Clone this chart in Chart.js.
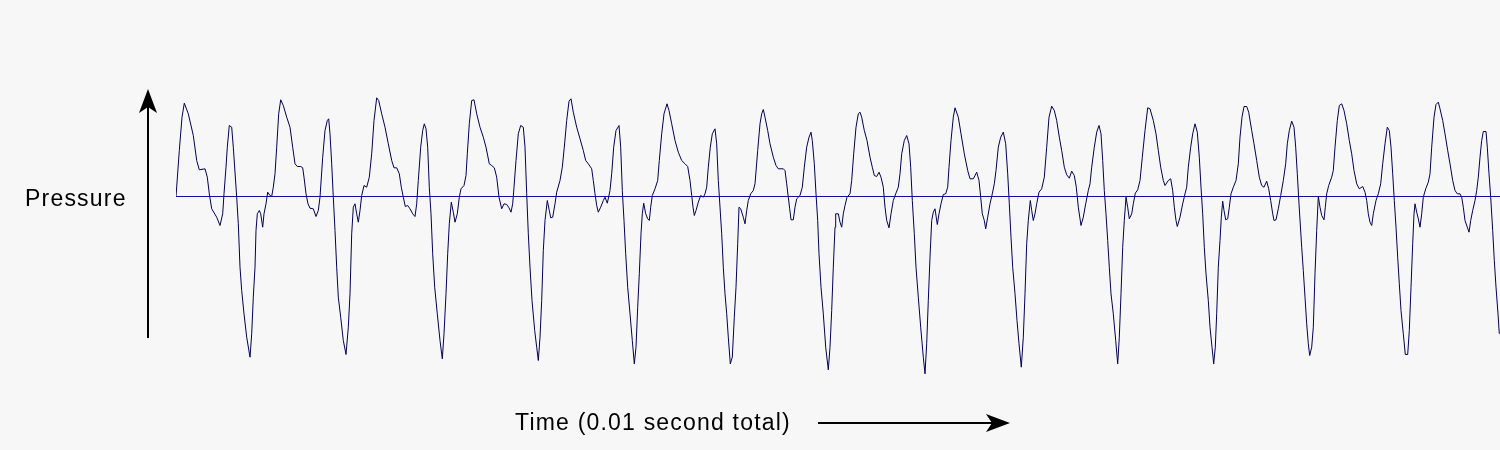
<!DOCTYPE html>
<html>
<head>
<meta charset="utf-8">
<title>Pressure over time</title>
<script src="https://cdn.jsdelivr.net/npm/chart.js@4.4.1/dist/chart.umd.min.js"></script>
<style>
  html, body { margin: 0; padding: 0; background: #f7f7f7; }
  #wrap { width: 1500px; height: 450px; }
</style>
</head>
<body>
<div id="wrap"><canvas id="wave" width="1500" height="450"></canvas></div>
<script>
// time (arbitrary units, whole trace = 0.01 s) and pressure (arbitrary units, 0 = ambient)
const time = [
    0, 3.3, 6, 8.3, 12.3, 17.3, 20.7, 23.3, 29, 31.3,
    33.3, 35.7, 40.7, 44, 46.7, 48, 50, 51.3, 53.3, 55.7,
    57.3, 60.7, 62.3, 64, 65.7, 68, 70.7, 74, 75.7, 77.3,
    79, 80, 81.3, 83.3, 84.7, 86.7, 88, 90, 91.7, 94,
    95.7, 97.3, 99, 100.7, 102.7, 104.7, 107.3, 110.7, 114, 116.7,
    119, 121.3, 124.7, 126.7, 128, 130, 132, 134, 137.3, 140,
    142.3, 144, 146.7, 149, 151.3, 152.7, 154, 155.7, 157.3, 159,
    160.7, 162.3, 164.7, 167.3, 170, 172.3, 174, 175.7, 177.3, 179,
    180.7, 182.3, 184,
    185.7, 188, 190.7, 193.3, 195.7, 198, 200.7, 202.7, 205.7, 209,
    212.3, 215.7, 218, 220.7, 223.3, 225.3, 227.3, 229.3, 231.7, 234,
    236.7, 239, 240.7, 242.3, 244.7, 246.7, 248.3, 250, 251.7, 253.3,
    255, 256.7, 258.7, 261.3, 264, 266.3, 268, 270, 271.7, 273.3,
    275.3, 277.3, 279, 281.3, 283.3, 285, 288, 290, 291.3, 293.3,
    295.7, 298, 300.7, 304, 307.3, 310, 313.3, 315.7, 318.3, 320.7,
    323, 325.7, 328, 330.7, 333, 335, 336.7, 338, 340, 342.3,
    344.7, 347.3, 349, 350.7, 352.3, 354, 356, 358.7, 360.7, 362.3,
    364, 365.7, 367.3, 369, 371.3, 373.3, 374.7, 376.7,
    379, 380.7, 384, 386.3, 388.3, 390.7, 393, 395, 397.3, 400.7,
    404, 407.3, 409.7, 412.3, 415.7, 417.3, 419, 420.7, 422.3, 424.7,
    427.3, 429, 431.3, 434, 435.7, 437.7, 440, 443, 444.7, 446.3,
    448, 449.7, 451.7, 454, 456.3, 458.3, 460, 461.7, 463.3, 465,
    466.3, 467.7, 469.7, 471.7, 473.3, 474.7, 476.3, 479, 481.7, 483.3,
    485.7, 488, 491, 493, 495.7, 499, 502.3, 505.7, 509, 511.7,
    514, 515.7, 517, 518.3, 520, 522.3, 524.7, 527.3, 529, 530.7,
    532.3, 534.3, 536.3, 539, 540.7, 542.3, 544, 545.7, 547.3, 549,
    550.7, 552.3, 554.3, 556.3, 558.3, 560, 561.7, 563, 564.7, 567.3,
    569, 570.7, 572.3, 574.7, 577.3,
    579, 581.7, 584, 585.7, 587.3, 589, 591.7, 594, 597.3, 600,
    602.3, 607.3, 609, 610.7, 612.3, 613.7, 615, 617.3, 619, 620.7,
    624, 626.3, 628.3, 630.7, 633, 635, 636.3, 638.3, 640, 641.7,
    643, 645, 647.3, 649.7, 652.3, 654, 655.7, 657.3, 659, 659.7,
    662.3, 664, 665.7, 667.3, 669, 671, 674, 675.7, 677.7, 680,
    682.3, 684, 685.7, 688.3, 691, 694, 696.3, 698.3, 700.7, 703,
    705, 707.3, 709, 710.7, 713, 715, 717.3, 719.7, 722.3, 724,
    725.7, 728.3, 730.7, 733, 734.7, 736.3, 738.3, 740, 742.3, 744.7,
    747.3, 749, 750.7, 752.3, 754, 755.7, 757.3, 759, 761.3, 763,
    765, 767.3, 769.7, 771.7, 773, 775, 777.3,
    779, 782.3, 785, 788.3, 791.7, 794, 797.3, 800.7, 803, 804.7,
    806.3, 808.3, 809.7, 811.7, 814, 816.3, 818.3, 820, 822.3, 824.7,
    827.3, 829.7, 831.7, 833.3, 835, 836.7, 839, 841, 843, 845.3,
    847.3, 849, 850.7, 852.3, 854.3, 855.7, 857.3, 859, 860.7, 863,
    865.7, 868.3, 870.7, 873, 875.7, 878.3, 880.7, 883.3, 885.7, 888.3,
    890.7, 893.3, 895.7, 898.3, 900.3, 902.3, 905, 907.3, 909.7, 912.3,
    914, 915.7, 918.3, 920.7, 923, 925, 926.7, 928.3, 930, 931.7,
    933.3, 935, 937.3, 939.7, 941.7, 943.3, 945, 946.7, 948.3, 950,
    951.7, 953.3, 955.7, 957.3, 959.3, 961.7, 964, 966.3, 969, 971.7,
    974, 977.3, 980, 982.3, 984.7, 987.3, 989, 992.3, 994.7, 996.7,
    998.3, 1000, 1001.3, 1004, 1006.7, 1009, 1010.7, 1012.3, 1014.7, 1016.7,
    1019, 1021.3, 1023.3, 1025, 1026.7, 1028.3, 1030, 1032.3, 1034, 1036,
    1037.7, 1039.3, 1040.7, 1042.3, 1044, 1045.3, 1046.7, 1048, 1049.7, 1051.7,
    1053.3, 1055, 1057.3, 1060, 1062.3, 1064, 1066, 1068, 1070.7, 1072.7,
    1075.7, 1078, 1080.7, 1083.3, 1085.7, 1088, 1090.7, 1092.7, 1094.7, 1096.7,
    1098, 1100, 1102.3, 1104.7, 1107.3, 1109.7, 1111.3, 1113.3, 1115.7, 1118,
    1119.7, 1121.3, 1123,
    1125.7, 1127.3, 1129, 1130.7, 1132.3, 1133.7, 1135.7, 1137.3, 1139, 1140.7,
    1142.3, 1144, 1145.7, 1148, 1149.3, 1150.7, 1152.7, 1155.7, 1157.3, 1159,
    1161.3, 1163.3, 1165.7, 1168, 1170.7, 1173.3, 1175.7, 1178, 1180.7, 1183.3,
    1186.7, 1189, 1190.7, 1192.3, 1194, 1195.7, 1197.3, 1200, 1202.3, 1204.7,
    1206.7, 1209, 1211.3, 1213.3, 1215, 1216.7, 1218.3, 1220, 1221.7, 1223.3,
    1225, 1227.3, 1229.3, 1231.7, 1233.3, 1235, 1236.7, 1238, 1239, 1240.7,
    1242.3, 1244, 1245.7, 1247.3, 1249.7, 1252.3, 1254, 1255.7, 1258, 1260,
    1262.3, 1264, 1266.7, 1269, 1271.7, 1274, 1276.7, 1279, 1281.3, 1284,
    1285.7, 1287.3, 1289, 1291.3, 1293, 1294.7, 1296.7, 1299, 1300.7, 1302.3,
    1304, 1305.7, 1307.3, 1310, 1311.3, 1313, 1314.7, 1316.7, 1318.3, 1320,
    1322, 1323.3
];

const pressure = [
    0, 46, 79.3, 93.3, 82.7, 61, 36, 26.7, 27.7, 19.3,
    2.7, -12.3, -20.7, -29, -17.3, 2.7, 29.3, 49.3, 71, 69.3,
    49.3, -0.7, -27.3, -70.7, -94, -117.3, -140.7, -160.7, -137.3, -100.7,
    -70.7, -34, -17.3, -14, -17.3, -30.7, -17.3, -7.3, 4.3, 1,
    0, 9.3, 22.7, 49.3, 82.7, 96.7, 91, 79.3, 69.3, 49.3,
    32.7, 30, 30, 28.7, 19.3, 2.7, -7.3, -11.7, -12.3, -20,
    -14, -0.7, 39.3, 66, 76, 77.7, 62.7, 32.7, -0.7, -34,
    -70.7, -100.7, -120.7, -144, -158, -130.7, -97.3, -37.3, -10.7, -7.3,
    -17.3, -25.7, -14,
    1, 11, 9.3, 19.3, 42.7, 76, 98.7, 96, 82.7, 69.3,
    52.7, 36, 28.7, 28.7, 22.7, 9.3, -0.7, -10, -9, -12.3,
    -17.3, -20, -7.3, 16, 49.3, 66, 72.7, 67.7, 49.3, 9.3,
    -17.3, -57.3, -90.7, -117.3, -144, -162.3, -137.3, -97.3, -57.3, -27.3,
    -5.7, -15.7, -25.7, -17.3, -0.7, 7.7, 11, 21, 42.7, 72.7,
    96, 96.7, 82.7, 69.3, 59.3, 49.3, 32.7, 31, 28.7, 19.3,
    -0.7, -12.3, -7.3, -8, -11.3, -15.7, -7.3, 9.3, 36, 62.7,
    71, 69.3, 49.3, 2.7, -37.3, -70.7, -104, -134, -150.7, -164,
    -140.7, -104, -54, -24, -4, -14, -21.3, -20.7,
    -7.3, 4.3, 16, 29.3, 49.3, 76, 95.3, 97.7, 84.3, 69.3,
    57.7, 46, 36, 32.7, 27.7, 16, 2.7, -9, -15.7, -10.7,
    -4, -0.7, -6.7, 6, 22.7, 49.3, 66, 71, 49.3, 6,
    -24, -57.3, -90.7, -117.3, -144, -167.3, -150.7, -110.7, -77.3, -37.3,
    -17.3, -6.7, -17.3, -22.3, -24, -10.7, 1, 7.7, 16, 36,
    62.7, 82.7, 92.7, 86, 72.7, 56, 44.3, 36, 32.7, 30,
    16, 1, -10.7, -19, -14, -5.7, 1, -0.7, 2.7, 9.3,
    29.3, 49.3, 62.7, 67.7, 52.7, 16, -10.7, -37.3, -70.7, -97.3,
    -117.3, -140.7, -167.3, -160.7, -120.7, -90.7, -47.3, -10.7, -12.3, -20.7,
    -27.3, -14, -4, 2.7, 6,
    12.7, 46, 72.7, 82.7, 87, 79.3, 66, 52.7, 39.3, 31,
    27.7, 27.7, 26, 12.7, -0.7, -12.3, -23.3, -23.3, -10.7, -2.3,
    1, 9.3, 29.3, 49.3, 59.3, 64.3, 56, 32.7, 2.7, -24,
    -57.3, -90.7, -117.3, -150.7, -173.3, -150.7, -114, -70.7, -30.7, -17.3,
    -17.3, -25.7, -30.7, -17.3, -9, -0.7, 2.7, 16, 42.7, 69.3,
    82.7, 84.3, 79.3, 66, 56, 39.3, 29.3, 21, 20, 24.3,
    19.3, 9.3, -10.7, -24, -31.3, -17.3, -4, 2.7, 9.3, 22.7,
    42.7, 56, 61, 52.7, 29.3, -4, -37.3, -70.7, -100.7, -130.7,
    -160.7, -177.3, -147.3, -104, -60.7, -24, -15.7, -12.3, -28, -17.3,
    -7.3, 2, 2.7, 9.3, 29.3, 56, 79.3,
    88.7, 79.3, 62.7, 42.7, 26, 17.7, 17.7, 24.3, 16, -0.7,
    -17.3, -24, -32.3, -20.7, -7.3, 2.7, 12.7, 26, 49.3, 59.3,
    64.3, 52.7, 22.7, -7.3, -40.7, -70.7, -97.3, -124, -147.3, -170.7,
    -140.7, -97.3, -47.3, -24, -4, -14, -24, -17.3, -7.3, 4.3,
    7.7, 19.3, 49.3, 79.3, 90.3, 86, 76, 59.3, 46, 29.3,
    21.7, 18.3, 25.3, 21, 9.3, -10.7, -29, -20.7, -7.3, 6,
    12.7, 29.3, 49.3, 64.3, 71, 62.7, 36, 6, -17.3, -44,
    -70.7, -97.3, -117.3, -144, -167.3, -140.7, -97.3, -50.7, -24, -0.7,
    -10.7, -22.3, -17.3, -7.3, 3.3, 6.7, 16, 39.3, 66, 88.7,
    87.7, 76, 62.7, 46, 29.3, 16, 11, 16, 17.7, 6,
    -10.7, -24, -30, -20.7, -7.3, 2.7, 9.3, 29.3, 49.3, 62.7,
    72.7, 64.3, 39.3, 9.3, -17.3, -50.7, -77.3, -104, -130.7, -150.7,
    -167.3, -150.7, -117.3, -70.7, -44, -20.7, -4.7, -14, -23.3, -22.3,
    -10.7, 2.7, 9.3, 16, 32.7, 59.3, 79.3, 90, 90, 84.3,
    66, 52.7, 36, 19.3, 11, 9.3, 15.3, 7.7, -4, -17.3,
    -24, -23.3, -12.3, 1, 16, 32.7, 52.7, 66, 75.3, 69.3,
    49.3, 22.7, -7.3,
    -50.7, -74, -100.7, -127.3, -147.3, -159, -150.7, -130.7, -77.3, -34,
    0, -10.7, -19, -23.3, -10.7, 2.7, 11, 19.3, 26, 49.3,
    76, 91, 92.7, 86, 72.7, 56, 42.7, 26, 12.7, 7.7,
    10, 4.3, -4, -17.3, -25.7, -29, -17.3, -4, 2.7, 12.7,
    32.7, 52.7, 69.3, 66, 49.3, 22.7, -4, -30.7, -60.7, -87.3,
    -114, -137.3, -158, -158, -134, -90.7, -47.3, -17.3, -7.3, -15.7,
    -22.3, -30.7, -17.3, -0.7, 7.7, 14.3, 22.7, 49.3, 79.3, 92,
    94.3, 87.7, 76, 62.7, 46, 32.7, 16, 6, 2.7, 2.7,
    -0.7, -10.7, -24, -30.7, -35.7, -24, -14, -4, 6, 19.3,
    39.3, 56, 65, 65, 49.3, 22.7, -0.7, -34, -64, -90.7,
    -117.3, -137.3
];

// zero-pressure reference line across the whole trace
const baselineTime = [0, 1324];
const baselineValue = [0, 0];

const xLabel = 'Time (0.01 second total)';
const yLabel = 'Pressure';

const waveColor = '#000058';
const zeroColor = '#10109a';
const inkColor = '#000000';

const toPoints = (xs, ys) => xs.map((x, i) => ({ x: x, y: ys[i] }));

// filled arrowhead with a notch at the back
const arrowHead = (ctx, tipX, tipY, dirX, dirY) => {
    const len = 24, half = 9, notch = 6;
    const px = -dirY, py = dirX;
    ctx.beginPath();
    ctx.moveTo(tipX, tipY);
    ctx.lineTo(tipX - dirX * len + px * half, tipY - dirY * len + py * half);
    ctx.lineTo(tipX - dirX * (len - notch), tipY - dirY * (len - notch));
    ctx.lineTo(tipX - dirX * len - px * half, tipY - dirY * len - py * half);
    ctx.closePath();
    ctx.fill();
};

const axisArrows = {
    id: 'axisArrows',
    beforeDraw(chart) {
        const ctx = chart.ctx;
        ctx.save();
        ctx.fillStyle = '#f7f7f7';
        ctx.fillRect(0, 0, chart.width, chart.height);
        ctx.restore();
    },
    afterDraw(chart) {
        const ctx = chart.ctx;
        ctx.save();
        ctx.strokeStyle = inkColor;
        ctx.fillStyle = inkColor;
        ctx.lineWidth = 2;

        // vertical pressure arrow
        ctx.beginPath();
        ctx.moveTo(148, 338);
        ctx.lineTo(148, 100);
        ctx.stroke();
        arrowHead(ctx, 148, 89, 0, -1);

        // horizontal time arrow
        ctx.beginPath();
        ctx.moveTo(818, 423);
        ctx.lineTo(995, 423);
        ctx.stroke();
        arrowHead(ctx, 1010, 423, 1, 0);

        ctx.font = '23px "Liberation Sans", Arial, sans-serif';
        if ('letterSpacing' in ctx) ctx.letterSpacing = '1.2px';
        ctx.textBaseline = 'alphabetic';
        ctx.textAlign = 'left';
        ctx.fillText(yLabel, 25, 206);
        ctx.fillText(xLabel, 515, 430);
        ctx.restore();
    }
};

const ctx = document.getElementById('wave').getContext('2d');
const chart = new Chart(ctx, {
    type: 'line',
    data: {
        datasets: [
            {
                label: 'Zero',
                data: toPoints(baselineTime, baselineValue),
                borderColor: zeroColor,
                borderWidth: 1,
                pointRadius: 0,
                fill: false,
                tension: 0
            },
            {
                label: 'Pressure',
                data: toPoints(time, pressure),
                borderColor: waveColor,
                borderWidth: 1,
                pointRadius: 0,
                fill: false,
                tension: 0
            }
        ]
    },
    options: {
        responsive: false,
        animation: false,
        devicePixelRatio: 1,
        layout: { padding: { left: 176, right: 0, top: 0, bottom: 0 } },
        scales: {
            x: { type: 'linear', min: 0, max: 1324, display: false },
            y: { type: 'linear', min: -253.5, max: 196.5, display: false }
        },
        plugins: {
            legend: { display: false },
            tooltip: { enabled: false },
            title: { display: false }
        }
    },
    plugins: [axisArrows]
});
</script>
</body>
</html>
